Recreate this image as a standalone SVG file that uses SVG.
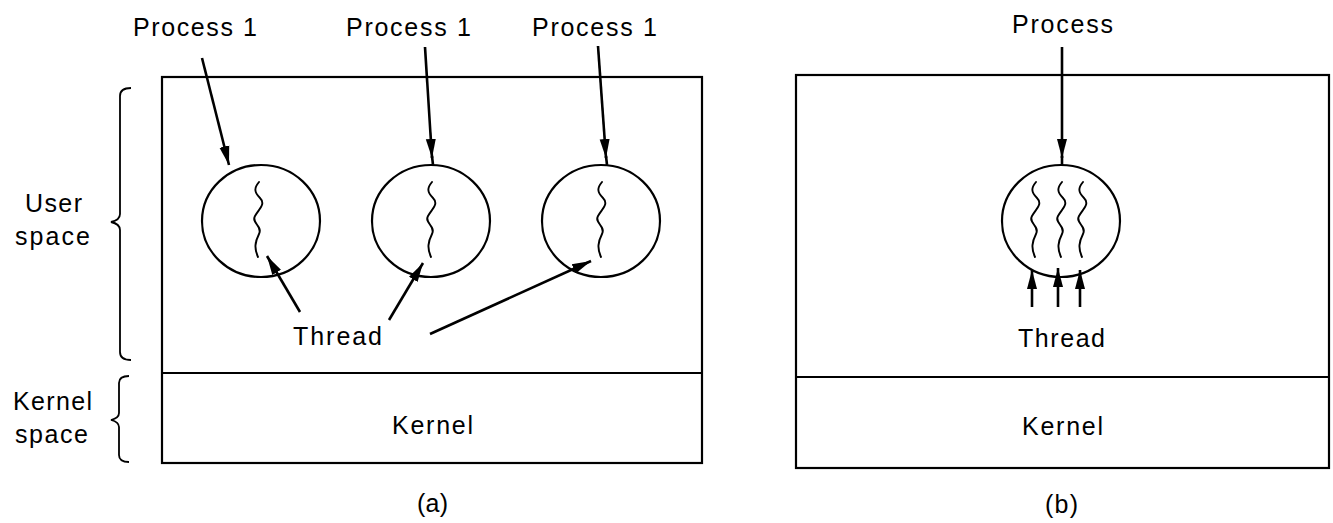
<svg xmlns="http://www.w3.org/2000/svg" width="1333" height="523" viewBox="0 0 1333 523">
<style>
  .box { fill: none; stroke: #000; stroke-width: 2.2; }
  .div { stroke: #000; stroke-width: 2.2; }
  .proc { fill: none; stroke: #000; stroke-width: 2.2; }
  .thr { fill: none; stroke: #000; stroke-width: 1.9; stroke-linecap: round; }
  .arr { fill: none; stroke: #000; stroke-width: 2.6; }
  .brace { fill: none; stroke: #000; stroke-width: 1.8; }
  text { font-family: "Liberation Sans", Arial, sans-serif; font-size: 25px; fill: #000; }
</style>
<defs>
  <marker id="ah" markerUnits="userSpaceOnUse" markerWidth="20" markerHeight="12" viewBox="0 0 20 12" refX="19" refY="6" orient="auto">
    <path d="M0,1 L19,6 L0,11 Z" fill="#000"/>
  </marker>
  <path id="sq" d="M1,0 C-4,6 -4,10 2,16 S1,27 -3,34 S5,44 1,52 S-4,66 0,75" class="thr"/>
</defs>

<g id="brace-user">
  <path class="brace" d="M131,88 Q120,88 120,96 L120,214 Q120,220 111,222 Q120,224 120,230 L120,352 Q120,360 131,360"/>
  <text x="25" y="212" textLength="57">User</text>
  <text x="15" y="245" textLength="75">space</text>
</g>
<g id="brace-kernel">
  <path class="brace" d="M129,376 Q119,376 119,383 L119,413 Q119,418 111,420 Q119,422 119,427 L119,455 Q119,462 129,462"/>
  <text x="13" y="410" textLength="79">Kernel</text>
  <text x="15" y="443" textLength="73">space</text>
</g>

<g id="panel-a">
  <rect class="box" x="162" y="77" width="540" height="386"/>
  <line class="div" x1="162" y1="373" x2="702" y2="373"/>
  <text x="392" y="434" textLength="81">Kernel</text>
  <text x="417" y="512" textLength="31">(a)</text>
</g>

<g id="process-a1">
  <ellipse class="proc" cx="261" cy="221" rx="59" ry="56"/>
  <use href="#sq" x="258" y="182"/>
  <text x="133" y="36" textLength="124">Process 1</text>
</g>
<g id="process-a2">
  <ellipse class="proc" cx="431" cy="221" rx="59" ry="56"/>
  <use href="#sq" x="431" y="182"/>
  <text x="346" y="36" textLength="125">Process 1</text>
</g>
<g id="process-a3">
  <ellipse class="proc" cx="601" cy="221" rx="59" ry="56"/>
  <use href="#sq" x="601" y="182"/>
  <text x="532" y="36" textLength="125">Process 1</text>
</g>
<g id="thread-label-a">
  <text x="293" y="345" textLength="89">Thread</text>
</g>

<g id="panel-b">
  <rect class="box" x="796" y="75" width="533" height="393"/>
  <line class="div" x1="796" y1="377" x2="1329" y2="377"/>
  <text x="1022" y="435" textLength="81">Kernel</text>
  <text x="1045" y="513" textLength="33">(b)</text>
</g>
<g id="process-b">
  <ellipse class="proc" cx="1061" cy="221" rx="59" ry="56"/>
  <use href="#sq" x="1035" y="182"/>
  <use href="#sq" x="1061" y="182"/>
  <use href="#sq" x="1082" y="182"/>
  <text x="1012" y="33" textLength="101">Process</text>
</g>
<g id="thread-label-b">
  <text x="1018" y="347" textLength="87">Thread</text>
</g>

<g id="connectors">
  <path class="arr" d="M202,58 L229,165" marker-end="url(#ah)"/>
  <path class="arr" d="M425,47 L432,158" marker-end="url(#ah)"/>
  <line class="arr" x1="432" y1="156" x2="433" y2="165"/>
  <path class="arr" d="M598,46 L606,158" marker-end="url(#ah)"/>
  <line class="arr" x1="606" y1="156" x2="607" y2="165"/>
  <path class="arr" d="M300,312 L267,256" marker-end="url(#ah)"/>
  <path class="arr" d="M389,320 L423,263" marker-end="url(#ah)"/>
  <path class="arr" d="M430,334 L591,261" marker-end="url(#ah)"/>
  <path class="arr" d="M1062,47 L1062,158" marker-end="url(#ah)"/>
  <line class="arr" x1="1062" y1="156" x2="1062" y2="165"/>
  <path class="arr" d="M1032,307 L1032,270" marker-end="url(#ah)"/>
  <path class="arr" d="M1058,307 L1058,268" marker-end="url(#ah)"/>
  <path class="arr" d="M1080,307 L1080,270" marker-end="url(#ah)"/>
</g>
</svg>
